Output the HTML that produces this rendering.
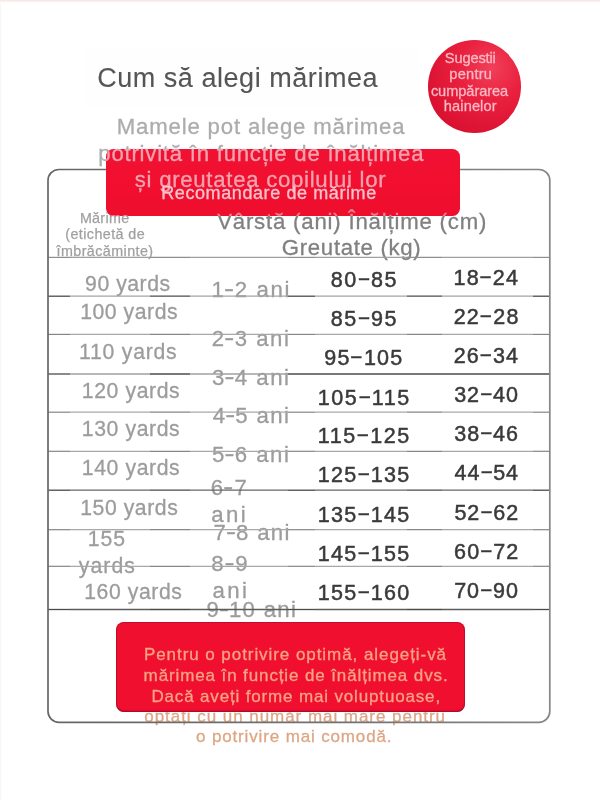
<!DOCTYPE html>
<html lang="ro"><head><meta charset="utf-8"><title>Cum să alegi mărimea</title>
<style>
html,body{margin:0;padding:0;background:#fff}
#root{position:relative;width:600px;height:800px;overflow:hidden;background:#fff;font-family:"Liberation Sans",sans-serif}
.t{position:absolute;white-space:pre;margin:0;padding:0;will-change:transform}
.abs{position:absolute}
.d{display:inline-block;position:relative;top:-2px;transform:scaleX(.84)}
.hy{display:inline-block;position:relative;top:-.6px;transform:scaleX(1.35)}
</style></head><body><div id="root">
<div class="abs" style="left:0;top:0;width:2px;height:800px;background:linear-gradient(90deg,#f6f1ef,#fff 75%)"></div>
<div class="abs" style="left:0;top:0;width:600px;height:3px;background:linear-gradient(#f6e2e3,#fcf0f0 45%,#fff)"></div>
<div class="abs" style="left:86px;top:49px;width:331px;height:57px;background:#fefefe;box-shadow:0 0 3px 1px #fefefe"></div>
<div class="abs" style="left:428.0px;top:40.2px;width:92.6px;height:92.6px;border-radius:50%;background:radial-gradient(circle at 68% 30%,#f1405a 0%,#e9203e 36%,#dc1232 72%,#cb0e2b 100%)"></div>
<div class="t" style="left:97px;top:61px;transform:translate(0.15px,0.00px);font-size:27.0px;line-height:34px;letter-spacing:0.541px;color:#555555;-webkit-text-stroke:0.1px #555555;">Cum să alegi mărimea</div>
<div class="t" style="left:444px;top:49px;transform:translate(0.86px,0.00px);font-size:14.6px;line-height:18px;letter-spacing:-0.139px;color:#fbb9c4;-webkit-text-stroke:0.3px #fbb9c4;">Sugestii</div>
<div class="t" style="left:449px;top:65px;transform:translate(0.28px,0.00px);font-size:14.6px;line-height:18px;letter-spacing:0.260px;color:#fbb9c4;-webkit-text-stroke:0.3px #fbb9c4;">pentru</div>
<div class="t" style="left:430px;top:82px;transform:translate(0.88px,0.00px);font-size:14.6px;line-height:18px;letter-spacing:-0.057px;color:#fbb9c4;-webkit-text-stroke:0.3px #fbb9c4;">cumpărarea</div>
<div class="t" style="left:443px;top:97px;transform:translate(0.86px,0.00px);font-size:14.6px;line-height:18px;letter-spacing:0.109px;color:#fbb9c4;-webkit-text-stroke:0.3px #fbb9c4;">hainelor</div>
<div class="t" style="left:79px;top:209px;transform:translate(0.88px,0.00px);font-size:14.3px;line-height:18px;letter-spacing:0.315px;color:#a0a0a0;-webkit-text-stroke:0.25px #a0a0a0;">Mărime</div>
<div class="t" style="left:65px;top:225px;transform:translate(0.23px,0.00px);font-size:14.3px;line-height:18px;letter-spacing:0.432px;color:#a0a0a0;-webkit-text-stroke:0.25px #a0a0a0;">(etichetă de</div>
<div class="t" style="left:56px;top:242px;transform:translate(0.48px,0.00px);font-size:14.3px;line-height:18px;letter-spacing:0.439px;color:#a0a0a0;-webkit-text-stroke:0.25px #a0a0a0;">îmbrăcăminte)</div>
<div class="t" style="left:217px;top:208px;transform:translate(0.15px,0.00px);font-size:22.2px;line-height:28px;letter-spacing:0.807px;color:#808080;-webkit-text-stroke:0.3px #808080;">Vârstă (ani) Înălțime (cm)</div>
<div class="t" style="left:281px;top:234px;transform:translate(0.85px,0.00px);font-size:22.2px;line-height:28px;letter-spacing:0.678px;color:#808080;-webkit-text-stroke:0.3px #808080;">Greutate (kg)</div>
<div class="t" style="left:85px;top:271px;transform:translate(0.06px,0.00px);font-size:21.2px;line-height:26px;letter-spacing:0.539px;color:#9c9c9c;-webkit-text-stroke:0.3px #9c9c9c;">90 yards</div>
<div class="t" style="left:80px;top:299px;transform:translate(0.13px,0.00px);font-size:21.2px;line-height:26px;letter-spacing:0.563px;color:#9c9c9c;-webkit-text-stroke:0.3px #9c9c9c;">100 yards</div>
<div class="t" style="left:79px;top:339px;transform:translate(0.07px,0.00px);font-size:21.2px;line-height:26px;letter-spacing:0.768px;color:#9c9c9c;-webkit-text-stroke:0.3px #9c9c9c;">110 yards</div>
<div class="t" style="left:81px;top:378px;transform:translate(0.83px,0.00px);font-size:21.2px;line-height:26px;letter-spacing:0.601px;color:#9c9c9c;-webkit-text-stroke:0.3px #9c9c9c;">120 yards</div>
<div class="t" style="left:81px;top:416px;transform:translate(0.83px,0.00px);font-size:21.2px;line-height:26px;letter-spacing:0.601px;color:#9c9c9c;-webkit-text-stroke:0.3px #9c9c9c;">130 yards</div>
<div class="t" style="left:81px;top:455px;transform:translate(0.83px,0.00px);font-size:21.2px;line-height:26px;letter-spacing:0.601px;color:#9c9c9c;-webkit-text-stroke:0.3px #9c9c9c;">140 yards</div>
<div class="t" style="left:80px;top:495px;transform:translate(0.16px,0.00px);font-size:21.2px;line-height:26px;letter-spacing:0.575px;color:#9c9c9c;-webkit-text-stroke:0.3px #9c9c9c;">150 yards</div>
<div class="t" style="left:87px;top:526px;transform:translate(0.76px,0.00px);font-size:21.2px;line-height:26px;letter-spacing:0.900px;color:#9c9c9c;-webkit-text-stroke:0.3px #9c9c9c;">155</div>
<div class="t" style="left:78px;top:553px;transform:translate(0.82px,0.00px);font-size:21.2px;line-height:26px;letter-spacing:1.075px;color:#9c9c9c;-webkit-text-stroke:0.3px #9c9c9c;">yards</div>
<div class="t" style="left:84px;top:579px;transform:translate(0.16px,0.00px);font-size:21.2px;line-height:26px;letter-spacing:0.582px;color:#9c9c9c;-webkit-text-stroke:0.3px #9c9c9c;">160 yards</div>
<div class="t" style="left:211px;top:276px;transform:translate(0.59px,0.00px);font-size:22.2px;line-height:28px;letter-spacing:1.666px;color:#9c9c9c;-webkit-text-stroke:0.3px #9c9c9c;">1<span class="hy">-</span>2 ani</div>
<div class="t" style="left:211px;top:325px;transform:translate(0.87px,0.00px);font-size:22.2px;line-height:28px;letter-spacing:1.524px;color:#9c9c9c;-webkit-text-stroke:0.3px #9c9c9c;">2<span class="hy">-</span>3 ani</div>
<div class="t" style="left:212px;top:364px;transform:translate(0.08px,0.00px);font-size:22.2px;line-height:28px;letter-spacing:1.489px;color:#9c9c9c;-webkit-text-stroke:0.3px #9c9c9c;">3<span class="hy">-</span>4 ani</div>
<div class="t" style="left:212px;top:402px;transform:translate(0.85px,0.00px);font-size:22.2px;line-height:28px;letter-spacing:1.361px;color:#9c9c9c;-webkit-text-stroke:0.3px #9c9c9c;">4<span class="hy">-</span>5 ani</div>
<div class="t" style="left:211px;top:441px;transform:translate(0.96px,0.00px);font-size:22.2px;line-height:28px;letter-spacing:1.509px;color:#9c9c9c;-webkit-text-stroke:0.3px #9c9c9c;">5<span class="hy">-</span>6 ani</div>
<div class="t" style="left:210px;top:474px;transform:translate(0.85px,0.00px);font-size:22.2px;line-height:28px;letter-spacing:2.009px;color:#9c9c9c;-webkit-text-stroke:0.3px #9c9c9c;">6<span class="hy">-</span>7</div>
<div class="t" style="left:211px;top:501px;transform:translate(0.30px,0.00px);font-size:22.2px;line-height:28px;letter-spacing:2.325px;color:#9c9c9c;-webkit-text-stroke:0.3px #9c9c9c;">ani</div>
<div class="t" style="left:213px;top:519px;transform:translate(0.60px,0.00px);font-size:22.2px;line-height:28px;letter-spacing:1.330px;color:#9c9c9c;-webkit-text-stroke:0.3px #9c9c9c;">7<span class="hy">-</span>8 ani</div>
<div class="t" style="left:211px;top:550px;transform:translate(0.22px,0.00px);font-size:22.2px;line-height:28px;letter-spacing:2.192px;color:#9c9c9c;-webkit-text-stroke:0.3px #9c9c9c;">8<span class="hy">-</span>9</div>
<div class="t" style="left:212px;top:577px;transform:translate(0.47px,0.00px);font-size:22.2px;line-height:28px;letter-spacing:2.389px;color:#9c9c9c;-webkit-text-stroke:0.3px #9c9c9c;">ani</div>
<div class="t" style="left:206px;top:596px;transform:translate(0.55px,0.00px);font-size:22.2px;line-height:28px;letter-spacing:1.303px;color:#9c9c9c;-webkit-text-stroke:0.3px #9c9c9c;">9<span class="hy">-</span>10 ani</div>
<div class="t" style="left:330px;top:267px;transform:translate(0.82px,0.00px);font-size:21.5px;line-height:27px;letter-spacing:1.434px;color:#3a3a3a;-webkit-text-stroke:0.5px #3a3a3a;">80<span class="d">–</span>85</div>
<div class="t" style="left:330px;top:306px;transform:translate(0.82px,0.00px);font-size:21.5px;line-height:27px;letter-spacing:1.434px;color:#3a3a3a;-webkit-text-stroke:0.5px #3a3a3a;">85<span class="d">–</span>95</div>
<div class="t" style="left:324px;top:345px;transform:translate(0.30px,0.00px);font-size:21.5px;line-height:27px;letter-spacing:1.237px;color:#3a3a3a;-webkit-text-stroke:0.5px #3a3a3a;">95<span class="d">–</span>105</div>
<div class="t" style="left:317px;top:385px;transform:translate(0.74px,0.00px);font-size:21.5px;line-height:27px;letter-spacing:1.543px;color:#3a3a3a;-webkit-text-stroke:0.5px #3a3a3a;">105<span class="d">–</span>115</div>
<div class="t" style="left:317px;top:423px;transform:translate(0.74px,0.00px);font-size:21.5px;line-height:27px;letter-spacing:1.543px;color:#3a3a3a;-webkit-text-stroke:0.5px #3a3a3a;">115<span class="d">–</span>125</div>
<div class="t" style="left:317px;top:462px;transform:translate(0.74px,0.00px);font-size:21.5px;line-height:27px;letter-spacing:1.277px;color:#3a3a3a;-webkit-text-stroke:0.5px #3a3a3a;">125<span class="d">–</span>135</div>
<div class="t" style="left:317px;top:502px;transform:translate(0.74px,0.00px);font-size:21.5px;line-height:27px;letter-spacing:1.277px;color:#3a3a3a;-webkit-text-stroke:0.5px #3a3a3a;">135<span class="d">–</span>145</div>
<div class="t" style="left:317px;top:541px;transform:translate(0.74px,0.00px);font-size:21.5px;line-height:27px;letter-spacing:1.277px;color:#3a3a3a;-webkit-text-stroke:0.5px #3a3a3a;">145<span class="d">–</span>155</div>
<div class="t" style="left:317px;top:580px;transform:translate(0.74px,0.00px);font-size:21.5px;line-height:27px;letter-spacing:1.280px;color:#3a3a3a;-webkit-text-stroke:0.5px #3a3a3a;">155<span class="d">–</span>160</div>
<div class="t" style="left:453px;top:265px;transform:translate(0.55px,0.00px);font-size:21.5px;line-height:27px;letter-spacing:1.137px;color:#3a3a3a;-webkit-text-stroke:0.5px #3a3a3a;">18<span class="d">–</span>24</div>
<div class="t" style="left:453px;top:304px;transform:translate(0.69px,0.00px);font-size:21.5px;line-height:27px;letter-spacing:1.214px;color:#3a3a3a;-webkit-text-stroke:0.5px #3a3a3a;">22<span class="d">–</span>28</div>
<div class="t" style="left:453px;top:343px;transform:translate(0.69px,0.00px);font-size:21.5px;line-height:27px;letter-spacing:1.104px;color:#3a3a3a;-webkit-text-stroke:0.5px #3a3a3a;">26<span class="d">–</span>34</div>
<div class="t" style="left:454px;top:382px;transform:translate(0.16px,0.00px);font-size:21.5px;line-height:27px;letter-spacing:1.007px;color:#3a3a3a;-webkit-text-stroke:0.5px #3a3a3a;">32<span class="d">–</span>40</div>
<div class="t" style="left:454px;top:421px;transform:translate(0.16px,0.00px);font-size:21.5px;line-height:27px;letter-spacing:1.021px;color:#3a3a3a;-webkit-text-stroke:0.5px #3a3a3a;">38<span class="d">–</span>46</div>
<div class="t" style="left:454px;top:460px;transform:translate(0.62px,0.00px);font-size:21.5px;line-height:27px;letter-spacing:0.871px;color:#3a3a3a;-webkit-text-stroke:0.5px #3a3a3a;">44<span class="d">–</span>54</div>
<div class="t" style="left:454px;top:500px;transform:translate(0.39px,0.00px);font-size:21.5px;line-height:27px;letter-spacing:1.024px;color:#3a3a3a;-webkit-text-stroke:0.5px #3a3a3a;">52<span class="d">–</span>62</div>
<div class="t" style="left:454px;top:539px;transform:translate(0.12px,0.00px);font-size:21.5px;line-height:27px;letter-spacing:1.092px;color:#3a3a3a;-webkit-text-stroke:0.5px #3a3a3a;">60<span class="d">–</span>72</div>
<div class="t" style="left:454px;top:578px;transform:translate(0.15px,0.00px);font-size:21.5px;line-height:27px;letter-spacing:1.008px;color:#3a3a3a;-webkit-text-stroke:0.5px #3a3a3a;">70<span class="d">–</span>90</div>
<div class="t" style="left:116px;top:113px;transform:translate(0.82px,0.00px);font-size:22.2px;line-height:28px;letter-spacing:0.818px;color:#acacae;-webkit-text-stroke:0.3px #acacae;">Mamele pot alege mărimea</div>
<div class="t" style="left:98px;top:140px;transform:translate(0.33px,0.00px);font-size:22.2px;line-height:28px;letter-spacing:0.758px;color:#acacae;-webkit-text-stroke:0.3px #acacae;">potrivită în funcție de înălțimea</div>
<div class="t" style="left:144px;top:706px;transform:translate(0.23px,0.00px);font-size:17.0px;line-height:21px;letter-spacing:0.955px;color:#dda684;-webkit-text-stroke:0.3px #dda684;">optați cu un număr mai mare pentru</div>
<div class="t" style="left:196px;top:726px;transform:translate(0.01px,0.00px);font-size:17.0px;line-height:21px;letter-spacing:0.855px;color:#dda684;-webkit-text-stroke:0.3px #dda684;">o potrivire mai comodă.</div>
<svg class="abs" style="left:0;top:0" width="600" height="800" viewBox="0 0 600 800"><line x1="48.0" y1="257.40" x2="70.0" y2="257.40" stroke="#8e8e8e" stroke-width="1.2"/><line x1="70.0" y1="257.40" x2="150.0" y2="257.40" stroke="#a0a0a0" stroke-width="1.2"/><line x1="150.0" y1="257.40" x2="190.0" y2="257.40" stroke="#8e8e8e" stroke-width="1.2"/><line x1="190.0" y1="257.40" x2="288.0" y2="257.40" stroke="#a0a0a0" stroke-width="1.2"/><line x1="288.0" y1="257.40" x2="315.0" y2="257.40" stroke="#8e8e8e" stroke-width="1.2"/><line x1="315.0" y1="257.40" x2="407.0" y2="257.40" stroke="#a0a0a0" stroke-width="1.2"/><line x1="407.0" y1="257.40" x2="442.0" y2="257.40" stroke="#8e8e8e" stroke-width="1.2"/><line x1="442.0" y1="257.40" x2="533.0" y2="257.40" stroke="#a0a0a0" stroke-width="1.2"/><line x1="533.0" y1="257.40" x2="549.8" y2="257.40" stroke="#8e8e8e" stroke-width="1.2"/><line x1="48.0" y1="296.20" x2="70.0" y2="296.20" stroke="#4c4c4c" stroke-width="1.3"/><line x1="70.0" y1="296.20" x2="150.0" y2="296.20" stroke="#a4a4a4" stroke-width="1.3"/><line x1="150.0" y1="296.20" x2="190.0" y2="296.20" stroke="#4c4c4c" stroke-width="1.3"/><line x1="190.0" y1="296.20" x2="288.0" y2="296.20" stroke="#a4a4a4" stroke-width="1.3"/><line x1="288.0" y1="296.20" x2="315.0" y2="296.20" stroke="#4c4c4c" stroke-width="1.3"/><line x1="315.0" y1="296.20" x2="407.0" y2="296.20" stroke="#a4a4a4" stroke-width="1.3"/><line x1="407.0" y1="296.20" x2="442.0" y2="296.20" stroke="#4c4c4c" stroke-width="1.3"/><line x1="442.0" y1="296.20" x2="533.0" y2="296.20" stroke="#a4a4a4" stroke-width="1.3"/><line x1="533.0" y1="296.20" x2="549.8" y2="296.20" stroke="#4c4c4c" stroke-width="1.3"/><line x1="48.0" y1="334.40" x2="70.0" y2="334.40" stroke="#868686" stroke-width="1.2"/><line x1="70.0" y1="334.40" x2="150.0" y2="334.40" stroke="#a8a8a8" stroke-width="1.2"/><line x1="150.0" y1="334.40" x2="190.0" y2="334.40" stroke="#868686" stroke-width="1.2"/><line x1="190.0" y1="334.40" x2="288.0" y2="334.40" stroke="#a8a8a8" stroke-width="1.2"/><line x1="288.0" y1="334.40" x2="315.0" y2="334.40" stroke="#868686" stroke-width="1.2"/><line x1="315.0" y1="334.40" x2="407.0" y2="334.40" stroke="#a8a8a8" stroke-width="1.2"/><line x1="407.0" y1="334.40" x2="442.0" y2="334.40" stroke="#868686" stroke-width="1.2"/><line x1="442.0" y1="334.40" x2="533.0" y2="334.40" stroke="#a8a8a8" stroke-width="1.2"/><line x1="533.0" y1="334.40" x2="549.8" y2="334.40" stroke="#868686" stroke-width="1.2"/><line x1="48.0" y1="374.00" x2="70.0" y2="374.00" stroke="#4c4c4c" stroke-width="1.3"/><line x1="70.0" y1="374.00" x2="150.0" y2="374.00" stroke="#a0a0a0" stroke-width="1.3"/><line x1="150.0" y1="374.00" x2="190.0" y2="374.00" stroke="#4c4c4c" stroke-width="1.3"/><line x1="190.0" y1="374.00" x2="288.0" y2="374.00" stroke="#a0a0a0" stroke-width="1.3"/><line x1="288.0" y1="374.00" x2="549.8" y2="374.00" stroke="#4c4c4c" stroke-width="1.3"/><line x1="48.0" y1="412.20" x2="70.0" y2="412.20" stroke="#868686" stroke-width="1.2"/><line x1="70.0" y1="412.20" x2="150.0" y2="412.20" stroke="#a8a8a8" stroke-width="1.2"/><line x1="150.0" y1="412.20" x2="190.0" y2="412.20" stroke="#868686" stroke-width="1.2"/><line x1="190.0" y1="412.20" x2="288.0" y2="412.20" stroke="#a8a8a8" stroke-width="1.2"/><line x1="288.0" y1="412.20" x2="315.0" y2="412.20" stroke="#868686" stroke-width="1.2"/><line x1="315.0" y1="412.20" x2="407.0" y2="412.20" stroke="#a8a8a8" stroke-width="1.2"/><line x1="407.0" y1="412.20" x2="442.0" y2="412.20" stroke="#868686" stroke-width="1.2"/><line x1="442.0" y1="412.20" x2="533.0" y2="412.20" stroke="#a8a8a8" stroke-width="1.2"/><line x1="533.0" y1="412.20" x2="549.8" y2="412.20" stroke="#868686" stroke-width="1.2"/><line x1="48.0" y1="451.30" x2="70.0" y2="451.30" stroke="#868686" stroke-width="1.2"/><line x1="70.0" y1="451.30" x2="150.0" y2="451.30" stroke="#a8a8a8" stroke-width="1.2"/><line x1="150.0" y1="451.30" x2="190.0" y2="451.30" stroke="#868686" stroke-width="1.2"/><line x1="190.0" y1="451.30" x2="288.0" y2="451.30" stroke="#a8a8a8" stroke-width="1.2"/><line x1="288.0" y1="451.30" x2="315.0" y2="451.30" stroke="#868686" stroke-width="1.2"/><line x1="315.0" y1="451.30" x2="407.0" y2="451.30" stroke="#a8a8a8" stroke-width="1.2"/><line x1="407.0" y1="451.30" x2="442.0" y2="451.30" stroke="#868686" stroke-width="1.2"/><line x1="442.0" y1="451.30" x2="533.0" y2="451.30" stroke="#a8a8a8" stroke-width="1.2"/><line x1="533.0" y1="451.30" x2="549.8" y2="451.30" stroke="#868686" stroke-width="1.2"/><line x1="48.0" y1="490.20" x2="70.0" y2="490.20" stroke="#484848" stroke-width="1.3"/><line x1="70.0" y1="490.20" x2="150.0" y2="490.20" stroke="#666666" stroke-width="1.3"/><line x1="150.0" y1="490.20" x2="190.0" y2="490.20" stroke="#484848" stroke-width="1.3"/><line x1="190.0" y1="490.20" x2="288.0" y2="490.20" stroke="#666666" stroke-width="1.3"/><line x1="288.0" y1="490.20" x2="315.0" y2="490.20" stroke="#484848" stroke-width="1.3"/><line x1="315.0" y1="490.20" x2="407.0" y2="490.20" stroke="#666666" stroke-width="1.3"/><line x1="407.0" y1="490.20" x2="442.0" y2="490.20" stroke="#484848" stroke-width="1.3"/><line x1="442.0" y1="490.20" x2="533.0" y2="490.20" stroke="#666666" stroke-width="1.3"/><line x1="533.0" y1="490.20" x2="549.8" y2="490.20" stroke="#484848" stroke-width="1.3"/><line x1="48.0" y1="529.70" x2="70.0" y2="529.70" stroke="#868686" stroke-width="1.2"/><line x1="70.0" y1="529.70" x2="150.0" y2="529.70" stroke="#a8a8a8" stroke-width="1.2"/><line x1="150.0" y1="529.70" x2="190.0" y2="529.70" stroke="#868686" stroke-width="1.2"/><line x1="190.0" y1="529.70" x2="288.0" y2="529.70" stroke="#a8a8a8" stroke-width="1.2"/><line x1="288.0" y1="529.70" x2="315.0" y2="529.70" stroke="#868686" stroke-width="1.2"/><line x1="315.0" y1="529.70" x2="407.0" y2="529.70" stroke="#a8a8a8" stroke-width="1.2"/><line x1="407.0" y1="529.70" x2="442.0" y2="529.70" stroke="#868686" stroke-width="1.2"/><line x1="442.0" y1="529.70" x2="533.0" y2="529.70" stroke="#a8a8a8" stroke-width="1.2"/><line x1="533.0" y1="529.70" x2="549.8" y2="529.70" stroke="#868686" stroke-width="1.2"/><line x1="48.0" y1="566.30" x2="70.0" y2="566.30" stroke="#868686" stroke-width="1.2"/><line x1="70.0" y1="566.30" x2="150.0" y2="566.30" stroke="#a8a8a8" stroke-width="1.2"/><line x1="150.0" y1="566.30" x2="190.0" y2="566.30" stroke="#868686" stroke-width="1.2"/><line x1="190.0" y1="566.30" x2="288.0" y2="566.30" stroke="#a8a8a8" stroke-width="1.2"/><line x1="288.0" y1="566.30" x2="315.0" y2="566.30" stroke="#868686" stroke-width="1.2"/><line x1="315.0" y1="566.30" x2="407.0" y2="566.30" stroke="#a8a8a8" stroke-width="1.2"/><line x1="407.0" y1="566.30" x2="442.0" y2="566.30" stroke="#868686" stroke-width="1.2"/><line x1="442.0" y1="566.30" x2="533.0" y2="566.30" stroke="#a8a8a8" stroke-width="1.2"/><line x1="533.0" y1="566.30" x2="549.8" y2="566.30" stroke="#868686" stroke-width="1.2"/><line x1="48.0" y1="609.50" x2="70.0" y2="609.50" stroke="#4a4a4a" stroke-width="1.3"/><line x1="70.0" y1="609.50" x2="150.0" y2="609.50" stroke="#5c5c5c" stroke-width="1.3"/><line x1="150.0" y1="609.50" x2="190.0" y2="609.50" stroke="#4a4a4a" stroke-width="1.3"/><line x1="190.0" y1="609.50" x2="288.0" y2="609.50" stroke="#5c5c5c" stroke-width="1.3"/><line x1="288.0" y1="609.50" x2="315.0" y2="609.50" stroke="#4a4a4a" stroke-width="1.3"/><line x1="315.0" y1="609.50" x2="407.0" y2="609.50" stroke="#5c5c5c" stroke-width="1.3"/><line x1="407.0" y1="609.50" x2="442.0" y2="609.50" stroke="#4a4a4a" stroke-width="1.3"/><line x1="442.0" y1="609.50" x2="533.0" y2="609.50" stroke="#5c5c5c" stroke-width="1.3"/><line x1="533.0" y1="609.50" x2="549.8" y2="609.50" stroke="#4a4a4a" stroke-width="1.3"/><defs><linearGradient id="og" gradientUnits="userSpaceOnUse" x1="47.15" y1="0" x2="550.65" y2="0"><stop offset="0" stop-color="#666"/><stop offset="0.6" stop-color="#727272"/><stop offset="1" stop-color="#868686"/></linearGradient></defs><rect x="48.00" y="169.50" width="501.80" height="552.80" rx="11" ry="11" fill="none" stroke="url(#og)" stroke-width="1.7"/></svg>
<div class="abs" style="left:106px;top:149px;width:354.0px;height:67.0px;border-radius:7.5px;overflow:hidden;background:linear-gradient(#f01233,#f20e2e 55%,#ee0e2e)">
<div class="t" aria-hidden="true" style="left:-8px;top:-9px;transform:translate(0.33px,0.00px);font-size:22.2px;line-height:28px;letter-spacing:0.758px;color:#f2a2ae;-webkit-text-stroke:0.3px #f2a2ae;">potrivită în funcție de înălțimea</div>
<div class="t" style="left:28px;top:17px;transform:translate(0.81px,0.00px);font-size:22.2px;line-height:28px;letter-spacing:0.710px;color:#f2a2ae;-webkit-text-stroke:0.3px #f2a2ae;">și greutatea copilului lor</div>
<div class="t" aria-hidden="true" style="left:111px;top:59px;transform:translate(0.15px,0.00px);font-size:22.2px;line-height:28px;letter-spacing:0.807px;color:#e58795;-webkit-text-stroke:0.3px #e58795;">Vârstă (ani) Înălțime (cm)</div>
<div class="t" aria-hidden="true" style="left:-27px;top:60px;transform:translate(0.88px,0.00px);font-size:14.3px;line-height:18px;letter-spacing:0.315px;color:#e58795;-webkit-text-stroke:0.25px #e58795;">Mărime</div>
<div class="t" style="left:55px;top:33px;transform:translate(0.21px,0.00px);font-size:18.0px;line-height:22px;letter-spacing:0.593px;color:#f8c4cc;-webkit-text-stroke:0.3px #f8c4cc;">Recomandare de mărime</div>
</div>
<div class="abs" style="left:115.5px;top:622.4px;width:349.8px;height:89.8px;border-radius:8px;overflow:hidden;background:#f10f30;box-shadow:inset 0 0 0 1px rgba(140,10,45,.45),inset 0 -1.5px 1.5px rgba(140,0,30,.45)">
<div class="t" style="left:27px;top:21px;transform:translate(0.93px,0.60px);font-size:17.0px;line-height:21px;letter-spacing:0.938px;color:#f7a385;-webkit-text-stroke:0.3px #f7a385;">Pentru o potrivire optimă, alegeți-vă</div>
<div class="t" style="left:27px;top:42px;transform:translate(0.62px,0.60px);font-size:17.0px;line-height:21px;letter-spacing:0.884px;color:#f7a385;-webkit-text-stroke:0.3px #f7a385;">mărimea în funcție de înălțimea dvs.</div>
<div class="t" style="left:35px;top:63px;transform:translate(0.45px,0.60px);font-size:17.0px;line-height:21px;letter-spacing:0.842px;color:#f7a385;-webkit-text-stroke:0.3px #f7a385;">Dacă aveți forme mai voluptuoase,</div>
</div>
</div></body></html>
